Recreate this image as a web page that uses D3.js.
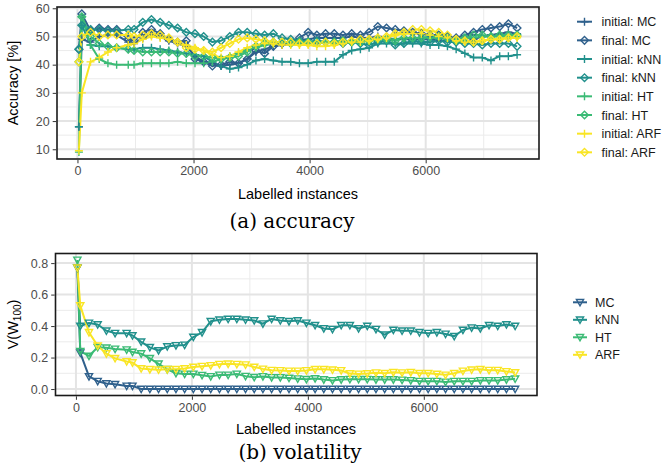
<!DOCTYPE html>
<html>
<head>
<meta charset="utf-8">
<script src="https://cdn.jsdelivr.net/npm/d3@7/dist/d3.min.js"></script>
<style>
  html, body { margin: 0; padding: 0; background: #fff; }
  svg { display: block; }
</style>
</head>
<body>
<svg id="fig" width="663" height="471"></svg>
<script>
// Labelled-instance counts at which every learner was evaluated
const instances = [25, 75, 225, 375, 525, 675, 875, 975, 1125, 1275, 1425, 1575, 1725, 1875,
  2025, 2175, 2325, 2475, 2625, 2775, 2925, 3075, 3225, 3375, 3525, 3675, 3825, 3975,
  4125, 4275, 4425, 4575, 4725, 4875, 5025, 5175, 5325, 5475, 5625, 5775, 5925, 6075,
  6225, 6375, 6525, 6675, 6825, 6975, 7125, 7275, 7425, 7575];

const methods = ["MC", "kNN", "HT", "ARF"];
const methodColors = ["#2F608C", "#21908C", "#3BBB75", "#F9E524"];

// Accuracy [%] — initial and final models
const accInitialMC = [18, 49, 48, 50, 50.5, 50.5, 48, 47.5, 49.5, 50.5, 50, 48.5, 47.5, 46.5,
  43, 41, 40.5, 39.5, 40, 40.5, 42, 44.5, 45.5, 46.5, 47, 48, 48.5, 49,
  49.5, 49.5, 49.5, 49.5, 50, 49.5, 49.5, 50, 49.5, 49, 49, 49, 49, 49,
  48.5, 48.5, 48.5, 48, 49, 50, 50.5, 51, 51.5, 51];
const accFinalMC = [45.5, 58, 52, 53, 52.5, 52.5, 49, 48.5, 51.5, 52.5, 51, 49, 48, 48.5,
  42, 41, 39.5, 40, 41, 40.5, 42, 45, 44, 46.5, 47.5, 48, 49.5, 51.5,
  50.5, 51, 51, 50.5, 51, 50.5, 51.5, 53.5, 53, 52.5, 52, 51.5, 51, 50.5,
  50.5, 50, 49.5, 50.5, 51.5, 52.5, 53, 53.5, 54.5, 53];
const accInitialKNN = [18, 54, 47, 46.5, 46.5, 46, 45.5, 45.5, 46, 46, 45.5, 45, 44.5, 44,
  43.5, 43, 41, 39.5, 38.5, 39, 40, 41.5, 42, 41.5, 41, 41, 40.5, 40.5,
  41, 41, 41, 43.5, 45, 45.5, 46, 47.5, 47.5, 47.5, 47.5, 47.5, 47.5, 47,
  47, 46.5, 45.5, 44, 42.5, 42.5, 41.5, 43, 43, 43.5];
const accFinalKNN = [45.5, 54, 52.5, 52.5, 52, 52, 52.5, 52.5, 55, 56, 55, 54, 53, 51.5,
  51, 50, 48, 48.5, 50, 51.5, 51.5, 51, 50.5, 51, 49.5, 49, 48.5, 48,
  48.5, 48, 48, 47.5, 48, 47.5, 47, 48, 48.5, 47, 47.5, 48.5, 48, 48,
  48.5, 48, 48, 47.5, 47.5, 47, 47.5, 47.5, 47.5, 46.5];
const accInitialHT = [9, 57, 47, 42, 40.5, 40, 40, 40, 40.5, 40.5, 40.5, 40.5, 41, 40.5,
  40.5, 40.5, 41, 42, 43, 44, 45, 46, 47, 47.5, 48, 48, 48, 48,
  48, 48, 48, 48, 48.5, 48.5, 48.5, 49, 49, 49, 49.5, 49.5, 49.5, 49.5,
  49.5, 49, 49, 49.5, 49.5, 50, 50, 50, 50, 50];
const accFinalHT = [41, 57, 50, 47.5, 46.5, 46, 45.5, 45, 44.5, 44.5, 44.5, 44.5, 44, 44,
  43, 43, 42.5, 42, 42.5, 43, 44.5, 46.5, 47.5, 48, 48, 47.5, 48, 48,
  47.5, 48, 48, 48.5, 48, 48, 48.5, 49, 49, 48.5, 49.5, 49.5, 49.5, 50,
  50, 49.5, 48.5, 49.5, 50.5, 50.5, 50, 50.5, 50.5, 50.5];
const accInitialARF = [9.5, 30, 41, 42.5, 44.5, 46, 47, 47.5, 49, 50, 49.5, 49, 48, 47,
  46, 45, 43.5, 42.5, 43, 44.5, 46, 47, 47.5, 47.5, 47, 47, 47, 47,
  46.5, 46.5, 47, 47.5, 48, 48, 48.5, 49, 49.5, 50.5, 51, 51, 51, 50.5,
  50, 49.5, 48.5, 48, 48, 48.5, 49, 49, 49.5, 49.5];
const accFinalARF = [41, 50, 51.5, 50, 50.5, 50.5, 50.5, 50, 50.5, 51, 50.5, 49.5, 48, 46,
  45.5, 45, 44.5, 46, 47.5, 49, 49.5, 49, 48.5, 48, 48, 48, 47.5, 47.5,
  47.5, 48, 47.5, 48, 48.5, 49, 49, 49.5, 50, 51, 51.5, 52.5, 52.5, 52,
  51.5, 50.5, 49, 48.5, 48, 48.5, 49, 49, 49.5, 50];

// Volatility V(W_100)
const volMC = [0.77, 0.23, 0.08, 0.05, 0.035, 0.03, 0.02, 0.02, 0, 0, 0, 0, 0, 0,
  0, 0, 0, 0, 0, 0, 0, 0, 0, 0, 0, 0, 0, 0,
  0, 0, 0, 0, 0, 0, 0, 0, 0, 0, 0, 0, 0, 0,
  0, 0, 0, 0, 0, 0, 0, 0, 0, 0];
const volKNN = [0.77, 0.40, 0.42, 0.41, 0.37, 0.355, 0.355, 0.34, 0.30, 0.265, 0.245, 0.27, 0.277, 0.28,
  0.33, 0.36, 0.43, 0.44, 0.445, 0.445, 0.44, 0.435, 0.415, 0.445, 0.435, 0.43, 0.435, 0.42,
  0.405, 0.385, 0.38, 0.405, 0.405, 0.385, 0.40, 0.38, 0.345, 0.375, 0.37, 0.37, 0.36, 0.355,
  0.36, 0.35, 0.335, 0.375, 0.39, 0.385, 0.405, 0.40, 0.41, 0.40];
const volHT = [0.82, 0.24, 0.21, 0.265, 0.262, 0.255, 0.25, 0.235, 0.225, 0.195, 0.16, 0.125, 0.10, 0.096,
  0.096, 0.088, 0.08, 0.09, 0.09, 0.096, 0.082, 0.075, 0.08, 0.074, 0.074, 0.07, 0.066, 0.062,
  0.067, 0.06, 0.055, 0.06, 0.063, 0.062, 0.063, 0.06, 0.06, 0.06, 0.058, 0.055, 0.05, 0.05,
  0.05, 0.045, 0.05, 0.05, 0.05, 0.055, 0.055, 0.055, 0.06, 0.065];
const volARF = [0.77, 0.53, 0.36, 0.275, 0.225, 0.195, 0.175, 0.168, 0.13, 0.125, 0.122, 0.125, 0.125, 0.13,
  0.14, 0.145, 0.15, 0.158, 0.16, 0.158, 0.155, 0.14, 0.128, 0.12, 0.118, 0.115, 0.115, 0.118,
  0.125, 0.125, 0.122, 0.118, 0.098, 0.096, 0.098, 0.104, 0.1, 0.106, 0.104, 0.106, 0.1, 0.1,
  0.095, 0.09, 0.1, 0.115, 0.122, 0.125, 0.12, 0.12, 0.112, 0.105];

const xTicks = [0, 2000, 4000, 6000];
const accTicks = [10, 20, 30, 40, 50, 60];
const volTicks = [0, 0.2, 0.4, 0.6, 0.8];

// ---------------------------------------------------------------
const accSeries = [
  { name: "initial: MC", method: 0, shape: "cross", values: accInitialMC },
  { name: "final: MC", method: 0, shape: "diamond", values: accFinalMC },
  { name: "initial: kNN", method: 1, shape: "cross", values: accInitialKNN },
  { name: "final: kNN", method: 1, shape: "diamond", values: accFinalKNN },
  { name: "initial: HT", method: 2, shape: "cross", values: accInitialHT },
  { name: "final: HT", method: 2, shape: "diamond", values: accFinalHT },
  { name: "initial: ARF", method: 3, shape: "cross", values: accInitialARF },
  { name: "final: ARF", method: 3, shape: "diamond", values: accFinalARF }
];
const volSeries = [
  { name: "MC", method: 0, shape: "triangle", values: volMC },
  { name: "kNN", method: 1, shape: "triangle", values: volKNN },
  { name: "HT", method: 2, shape: "triangle", values: volHT },
  { name: "ARF", method: 3, shape: "triangle", values: volARF }
];

const svg = d3.select("#fig");
svg.append("rect").attr("width", 663).attr("height", 471).attr("fill", "#fff");

const SANS = "'Liberation Sans', Arial, Helvetica, sans-serif";
const SERIF = "'DejaVu Serif', 'Liberation Serif', serif";

function expand(ext) {
  const pad = (ext[1] - ext[0]) * 0.05;
  return [ext[0] - pad, ext[1] + pad];
}

function markerPath(shape) {
  if (shape === "cross") return "M-4,0H4M0,-4V4";
  if (shape === "diamond") return "M0,-3.8L3.8,0L0,3.8L-3.8,0Z";
  return "M-3.6,-2.8L3.6,-2.8L0,3.6Z"; // downward triangle
}

function drawPanel(opts) {
  const { left, right, top, bottom, series, yTicks, yFmt } = opts;
  const allVals = series.flatMap(s => s.values);
  const x = d3.scaleLinear().domain(expand(d3.extent(instances))).range([left, right]);
  const y = d3.scaleLinear().domain(expand(d3.extent(allVals))).range([bottom, top]);
  const g = svg.append("g");

  // grid: minor then major
  const xd = x.domain(), yd = y.domain();
  const xMinor = d3.range(1000, xd[1], 2000);
  const yStep = yTicks[1] - yTicks[0];
  const yMinor = yTicks.map(t => t - yStep / 2).concat([yTicks[yTicks.length - 1] + yStep / 2])
    .filter(v => v > yd[0] && v < yd[1]);
  g.selectAll(".xminor").data(xMinor).enter().append("line")
    .attr("x1", d => x(d)).attr("x2", d => x(d)).attr("y1", top).attr("y2", bottom)
    .attr("stroke", "#EBEBEB").attr("stroke-width", 1);
  g.selectAll(".yminor").data(yMinor).enter().append("line")
    .attr("x1", left).attr("x2", right).attr("y1", d => y(d)).attr("y2", d => y(d))
    .attr("stroke", "#EBEBEB").attr("stroke-width", 1);
  g.selectAll(".xmajor").data(xTicks).enter().append("line")
    .attr("x1", d => x(d)).attr("x2", d => x(d)).attr("y1", top).attr("y2", bottom)
    .attr("stroke", "#E4E4E4").attr("stroke-width", 2);
  g.selectAll(".ymajor").data(yTicks).enter().append("line")
    .attr("x1", left).attr("x2", right).attr("y1", d => y(d)).attr("y2", d => y(d))
    .attr("stroke", "#E4E4E4").attr("stroke-width", 2);

  // lines
  const line = d3.line().x((d, i) => x(instances[i])).y(d => y(d));
  series.forEach(s => {
    g.append("path").attr("d", line(s.values)).attr("fill", "none")
      .attr("stroke", methodColors[s.method]).attr("stroke-width", 2)
      .attr("stroke-linejoin", "round");
  });
  // points
  series.forEach(s => {
    g.selectAll(null).data(s.values).enter().append("path")
      .attr("transform", (d, i) => `translate(${x(instances[i])},${y(d)})`)
      .attr("d", markerPath(s.shape))
      .attr("fill", "none").attr("stroke", methodColors[s.method]).attr("stroke-width", 1.4);
  });

  // panel border
  g.append("rect").attr("x", left).attr("y", top).attr("width", right - left)
    .attr("height", bottom - top).attr("fill", "none").attr("stroke", "#1A1A1A").attr("stroke-width", 1.6);

  // axes
  const xAxis = d3.axisBottom(x).tickValues(xTicks).tickSize(3.5).tickPadding(3).tickFormat(d3.format("d"));
  const ax = g.append("g").attr("transform", `translate(0,${bottom + 0.8})`).call(xAxis);
  const yAxis = d3.axisLeft(y).tickValues(yTicks).tickSize(3.5).tickPadding(3).tickFormat(yFmt);
  const ay = g.append("g").attr("transform", `translate(${left - 0.8},0)`).call(yAxis);
  [ax, ay].forEach(a => {
    a.select(".domain").remove();
    a.selectAll(".tick line").attr("stroke", "#333").attr("stroke-width", 1);
    a.selectAll(".tick text").attr("fill", "#4D4D4D").style("font-family", SANS).style("font-size", "12.5px");
  });
  return { x, y };
}

// ---- panel (a): accuracy
drawPanel({ left: 57, right: 539, top: 7, bottom: 159, series: accSeries, yTicks: accTicks, yFmt: d3.format("d") });
// ---- panel (b): volatility
drawPanel({ left: 55.5, right: 537, top: 253.5, bottom: 395.5, series: volSeries, yTicks: volTicks, yFmt: d3.format(".1f") });

// axis titles
function text(x, y, str, size, opts = {}) {
  return svg.append("text").attr("x", x).attr("y", y).text(str)
    .attr("text-anchor", opts.anchor || "middle")
    .attr("fill", opts.fill || "#000")
    .style("font-family", opts.family || SANS)
    .style("font-size", size + "px");
}
text(298, 199, "Labelled instances", 14.5);
text(296, 433.5, "Labelled instances", 14.5);
svg.append("text").attr("transform", "translate(18,83) rotate(-90)").attr("text-anchor", "middle")
  .style("font-family", SANS).style("font-size", "14.5px").text("Accuracy [%]");
const vt = svg.append("text").attr("transform", "translate(18,324.5) rotate(-90)").attr("text-anchor", "middle")
  .style("font-family", SANS).style("font-size", "14.5px");
vt.append("tspan").text("V(W");
vt.append("tspan").attr("dy", 3).style("font-size", "10px").text("100");
vt.append("tspan").attr("dy", -3).text(")");

// captions
text(292, 228, "(a) accuracy", 20, { family: SERIF });
text(300, 459, "(b) volatility", 20, { family: SERIF });

// legends
function legend(items, keyX0, keyX1, textX, y0, dy) {
  items.forEach((s, i) => {
    const cy = y0 + i * dy;
    const c = methodColors[s.method];
    svg.append("line").attr("x1", keyX0).attr("x2", keyX1).attr("y1", cy).attr("y2", cy)
      .attr("stroke", c).attr("stroke-width", 2);
    svg.append("path").attr("transform", `translate(${(keyX0 + keyX1) / 2},${cy})`)
      .attr("d", markerPath(s.shape)).attr("fill", "none").attr("stroke", c).attr("stroke-width", 1.4);
    text(textX, cy + 4.5, s.name, 12.5, { anchor: "start", fill: "#1A1A1A" });
  });
}
legend(accSeries, 577, 592, 601.5, 21.7, 18.66);
legend(volSeries, 573, 587, 595, 302.3, 17.5);
</script>
</body>
</html>
